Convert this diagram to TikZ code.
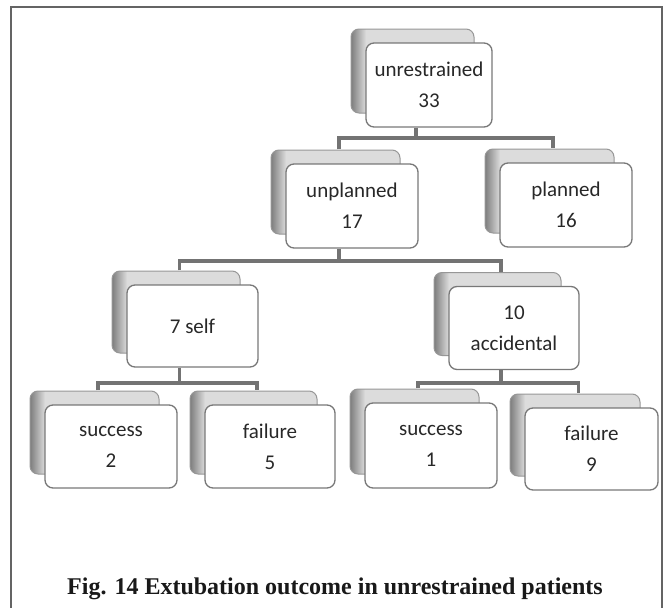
\documentclass[tikz,border=0pt]{standalone}
\usepackage{fontspec}
\setmainfont{Liberation Serif}
\newfontfamily\cardfont{Carlito}
\usetikzlibrary{calc}
\definecolor{txtgray}{RGB}{40,40,40}
\definecolor{boxline}{RGB}{120,120,120}
\definecolor{backfill}{RGB}{220,220,220}
\definecolor{backdark}{RGB}{125,125,125}
\definecolor{connc}{RGB}{115,115,115}
\definecolor{framec}{RGB}{100,100,100}
\tikzset{
  frontcard/.style={draw=boxline, line width=1.3pt, fill=white, rounded corners=8pt,
    align=center, inner sep=0pt, text=txtgray, font=\cardfont\fontsize{21}{31}\selectfont},
  backline/.style={draw=backdark!80, line width=1pt, rounded corners=8pt},
  conn/.style={draw=connc, line width=3.8pt, line join=miter},
  framestyle/.style={draw=framec, line width=2pt},
  captionstyle/.style={font=\bfseries\fontsize{24}{28}\selectfont, text=black!90, anchor=base}
}
% #1 name, #2 x, #3 y, #4 w, #5 h, #6 text
\newcommand\cardpair[6]{%
  \begin{scope}[shift={(#2-15,#3-14)}]
    \begin{scope}
      \path[clip, rounded corners=8pt] (-#4/2,-#5/2) rectangle (#4/2-3,#5/2);
      \fill[backfill] (-#4/2,-#5/2) rectangle (#4/2,#5/2);
      \shade[left color=backdark, right color=backfill] (-#4/2,-#5/2) rectangle (-#4/2+15,#5/2);
    \end{scope}
    \path[backline] (-#4/2,-#5/2) rectangle (#4/2-3,#5/2);
  \end{scope}
  \node[frontcard, minimum width=#4pt, minimum height=#5pt] (#1) at (#2,#3) {#6};
  \coordinate (#1-top) at ($(#1.north)+(-13,-14)$);
  \coordinate (#1-bot) at ($(#1.south)+(-13,0)$);
}
\begin{document}
\begin{tikzpicture}[x=1pt,y=-1pt]
\useasboundingbox (0,0) rectangle (665,608);
\fill[white] (0,0) rectangle (665,608);
\draw[framestyle] (11,608) -- (11,7) -- (662,7) -- (662,608);

\cardpair{root}{429}{85}{126}{84}{unrestrained\\33}
\cardpair{unpl}{352}{206}{132}{84}{unplanned\\17}
\cardpair{plan}{566}{205}{132}{84}{planned\\16}
\cardpair{self}{192.5}{326}{131}{82}{7 self}
\cardpair{acc}{514}{328}{130}{83}{\fontsize{21}{22}\selectfont 10\\accidental}
\cardpair{sa}{111}{446.5}{132}{83}{success\\2}
\cardpair{fa}{270}{446.5}{130}{83}{failure\\5}
\cardpair{sb}{431}{445.5}{132}{85}{success\\1}
\cardpair{fb}{591.5}{449}{133}{82}{failure\\9}

\coordinate (j1) at ($(root-bot)+(0,10)$);
\coordinate (j2) at ($(unpl-bot)+(0,12)$);
\coordinate (j3) at ($(self-bot)+(0,15)$);
\coordinate (j4) at ($(acc-bot)+(0,12.5)$);

\draw[conn] (root-bot) -- (j1);
\draw[conn] (unpl-top) |- (j1) -| (plan-top);
\draw[conn] (unpl-bot) -- (j2);
\draw[conn] (self-top) |- (j2) -| (acc-top);
\draw[conn] (self-bot) -- (j3);
\draw[conn] (sa-top) |- (j3) -| (fa-top);
\draw[conn] (acc-bot) -- (j4);
\draw[conn] (sb-top) |- (j4) -| (fb-top);

\node[captionstyle] (cap) at (335,594) {Fig. 14 Extubation outcome in unrestrained patients};
\end{tikzpicture}
\end{document}
